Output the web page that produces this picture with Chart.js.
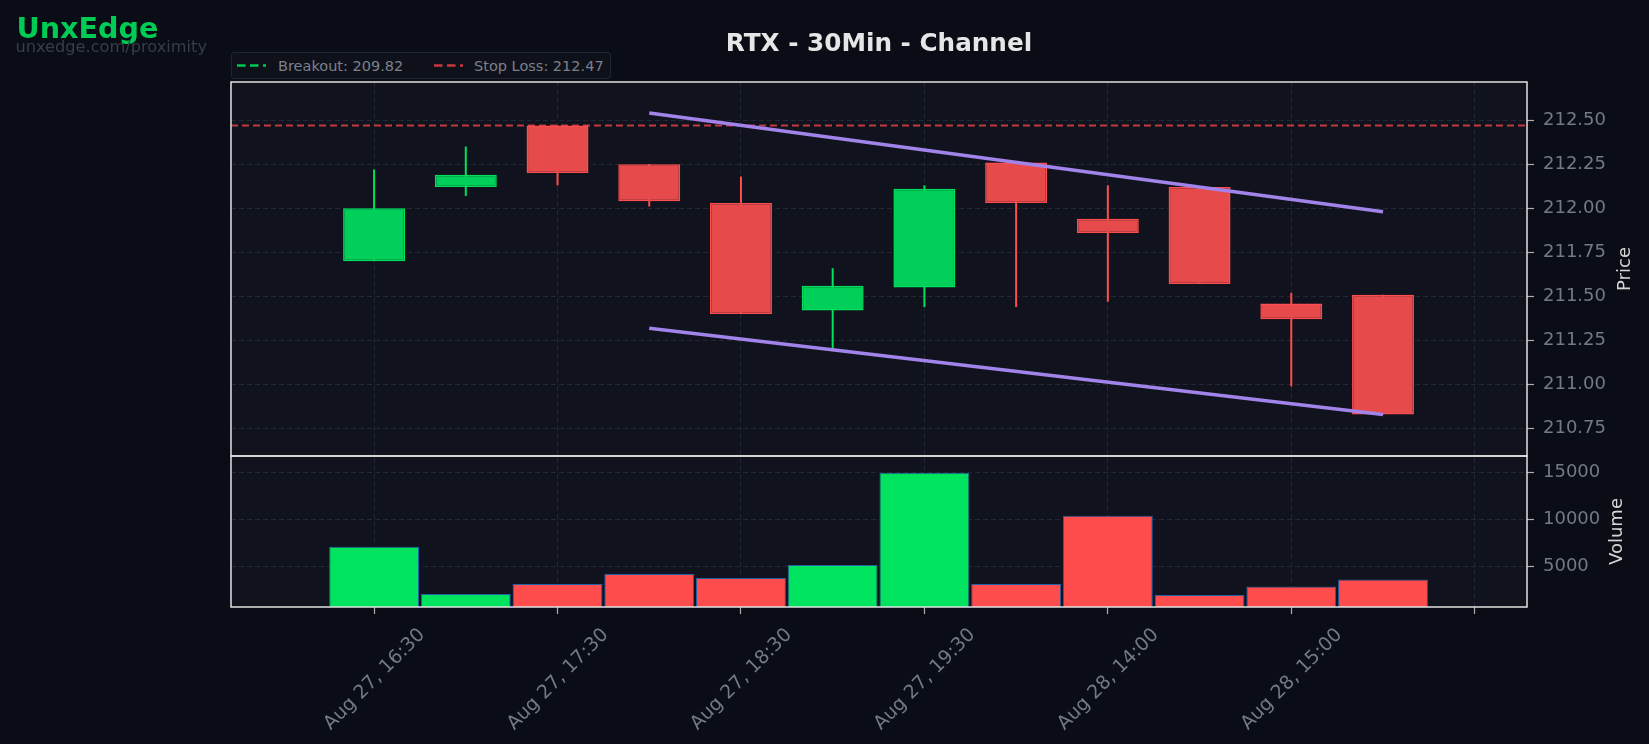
<!DOCTYPE html>
<html>
<head>
<meta charset="utf-8">
<title>RTX - 30Min - Channel</title>
<script src="https://cdn.jsdelivr.net/npm/chart.js@4.4.1/dist/chart.umd.min.js"></script>
<style>
  html, body { margin: 0; padding: 0; background: #0a0d15; }
  #wrap { position: relative; width: 1649px; height: 744px; overflow: hidden;
          font-family: 'DejaVu Sans', sans-serif; }
  #chart_canvas { position: absolute; left: 0; top: 0; }
  .txt { position: absolute; line-height: 1; white-space: nowrap; }
  #brand { left: 16.5px; top: 14px; font-size: 28.6px; font-weight: bold; color: #00cc55; }
  #brand_url { left: 15.5px; top: 39px; font-size: 16.2px; color: #383d49; }
  #title { left: 231px; width: 1296px; top: 31.2px; text-align: center;
           font-size: 24.7px; font-weight: bold; color: #e6e6e6; }
  #legend_box { position: absolute; left: 231px; top: 52px; width: 380px; height: 27px;
                box-sizing: border-box; border: 1px solid #20242f; border-radius: 3px;
                background: #0e111a; }
  .legend_text { font-size: 14.5px; color: #7b808b; top: 58.8px; }
  .legend_dash { position: absolute; top: 64px; }
</style>
</head>
<body>
<div id="wrap">
  <canvas id="chart_canvas" width="1649" height="744"></canvas>
  <div id="brand" class="txt">UnxEdge</div>
  <div id="brand_url" class="txt">unxedge.com/proximity</div>
  <div id="title" class="txt"></div>
  <div id="legend_box"></div>
  <svg class="legend_dash" style="left:237px" width="30" height="3">
    <line x1="0" y1="1.5" x2="29" y2="1.5" stroke="#00c853" stroke-width="2.5" stroke-dasharray="8.5 4.5"/>
  </svg>
  <div id="legend_breakout" class="txt legend_text" style="left:278px"></div>
  <svg class="legend_dash" style="left:434px" width="30" height="3">
    <line x1="0" y1="1.5" x2="29" y2="1.5" stroke="#c8393f" stroke-width="2.5" stroke-dasharray="8.5 4.5"/>
  </svg>
  <div id="legend_stop" class="txt legend_text" style="left:474px"></div>
</div>
<script>
// Chart text
const chart_title = 'RTX - 30Min - Channel';
const price_axis_title = 'Price';
const volume_axis_title = 'Volume';

// One entry per 30 minute candle
const candle_labels = [
  'Aug 27, 16:30', 'Aug 27, 17:00', 'Aug 27, 17:30', 'Aug 27, 18:00',
  'Aug 27, 18:30', 'Aug 27, 19:00', 'Aug 27, 19:30', 'Aug 28, 13:30',
  'Aug 28, 14:00', 'Aug 28, 14:30', 'Aug 28, 15:00', 'Aug 28, 15:30'
];
const open_prices  = [211.70, 212.12, 212.47, 212.25, 212.03, 211.42, 211.55, 212.26, 211.94, 212.12, 211.46, 211.51];
const high_prices  = [212.22, 212.35, 212.47, 212.25, 212.18, 211.66, 212.13, 212.26, 212.13, 212.12, 211.52, 211.51];
const low_prices   = [211.70, 212.07, 212.13, 212.01, 211.40, 211.20, 211.44, 211.44, 211.47, 211.57, 210.99, 210.83];
const close_prices = [212.00, 212.19, 212.20, 212.04, 211.40, 211.56, 212.11, 212.03, 211.86, 211.57, 211.37, 210.83];
const volumes      = [7060, 2060, 3120, 4180, 3760, 5140, 14930, 3120, 10350, 1950, 2840, 3580];

// Channel lines, from candle 3 to candle 11
const channel_candles = [3, 11];
const upper_channel = [212.54, 211.98];
const lower_channel = [211.32, 210.83];

const breakout_level = 209.82;
const stop_loss_level = 212.47;

// Axis ranges and tick values
const x_range = [-1.56, 12.57];
const x_ticks = [0, 2, 4, 6, 8, 10, 12];
const price_range = [210.595, 212.716];
const price_ticks = [210.75, 211.00, 211.25, 211.50, 211.75, 212.00, 212.25, 212.50];
const volume_range = [670, 16700];
const volume_ticks = [5000, 10000, 15000];

const font_family = "'DejaVu Sans', sans-serif";
const up_color = '#00cf5a';
const up_edge = '#00e25c';
const down_color = '#e74a4b';
const down_edge = '#ff4d4d';
const panel_color = '#10131e';
const grid_color = '#222733';
const tick_text_color = '#737985';

document.getElementById('title').textContent = chart_title;
document.getElementById('legend_breakout').textContent = 'Breakout: ' + breakout_level.toFixed(2);
document.getElementById('legend_stop').textContent = 'Stop Loss: ' + stop_loss_level.toFixed(2);

const candle_x = candle_labels.map((_, i) => i);
const is_up = candle_x.map(i => close_prices[i] >= open_prices[i]);

function channel_points(values) {
  return channel_candles.map((c, i) => ({x: c, y: values[i]}));
}

function fixed_ticks(values) {
  return (scale) => { scale.ticks = values.map(v => ({value: v})); };
}

/**
 * Paints the two panel backgrounds, then the frames and the axis titles.
 */
const panel_plugin = {
  id: 'panels',
  beforeDraw(chart) {
    const {ctx, chartArea} = chart;
    ctx.save();
    ctx.fillStyle = panel_color;
    for (const id of ['y', 'yv']) {
      const s = chart.scales[id];
      ctx.fillRect(chartArea.left, s.top, chartArea.right - chartArea.left, s.bottom - s.top);
    }
    ctx.restore();
  },
  afterDraw(chart) {
    const {ctx, chartArea} = chart;
    ctx.save();
    ctx.strokeStyle = '#e2e2e2';
    ctx.lineWidth = 1.5;
    for (const id of ['y', 'yv']) {
      const s = chart.scales[id];
      ctx.strokeRect(chartArea.left, s.top, chartArea.right - chartArea.left, s.bottom - s.top);
    }
    ctx.fillStyle = '#d6d6d6';
    ctx.font = '18px ' + font_family;
    ctx.textAlign = 'center';
    ctx.textBaseline = 'middle';
    const titles = [['y', price_axis_title, 98], ['yv', volume_axis_title, 90]];
    for (const [id, text, dx] of titles) {
      const s = chart.scales[id];
      ctx.save();
      ctx.translate(chartArea.right + dx, (s.top + s.bottom) / 2);
      ctx.rotate(-Math.PI / 2);
      ctx.fillText(text, 0, 0);
      ctx.restore();
    }
    ctx.restore();
  }
};

function y_scale(range, weight, tick_values, fmt) {
  return {
    type: 'linear',
    position: 'right',
    stack: 'panels',
    stackWeight: weight,
    min: range[0],
    max: range[1],
    grid: {color: grid_color, lineWidth: 1, tickColor: '#aeaeae', tickLength: 7, tickWidth: 1.2},
    border: {display: false, dash: [5, 3]},
    ticks: {
      padding: 9,
      color: tick_text_color,
      font: {family: font_family, size: 18},
      callback: fmt
    },
    afterBuildTicks: fixed_ticks(tick_values),
    afterFit: (s) => { s.width = 122; }
  };
}

new Chart(document.getElementById('chart_canvas'), {
  type: 'bar',
  data: {
    datasets: [{
      type: 'line',
      label: 'Upper channel',
      data: channel_points(upper_channel),
      borderColor: '#a283ea',
      borderWidth: 3.5,
      pointRadius: 0,
      yAxisID: 'y',
      order: 0
    }, {
      type: 'line',
      label: 'Lower channel',
      data: channel_points(lower_channel),
      borderColor: '#a283ea',
      borderWidth: 3.5,
      pointRadius: 0,
      yAxisID: 'y',
      order: 0
    }, {
      label: 'Body',
      data: candle_x.map(i => ({
        x: i,
        y: [Math.min(open_prices[i], close_prices[i]), Math.max(open_prices[i], close_prices[i])]
      })),
      backgroundColor: is_up.map(u => u ? up_color : down_color),
      borderColor: is_up.map(u => u ? up_edge : down_edge),
      borderWidth: 1.5,
      borderSkipped: false,
      grouped: false,
      barPercentage: 0.675,
      categoryPercentage: 1,
      yAxisID: 'y',
      order: 1
    }, {
      label: 'Wick',
      data: candle_x.map(i => ({x: i, y: [low_prices[i], high_prices[i]]})),
      backgroundColor: is_up.map(u => u ? up_edge : down_edge),
      borderWidth: 0,
      grouped: false,
      maxBarThickness: 2,
      yAxisID: 'y',
      order: 2
    }, {
      type: 'line',
      label: 'Stop Loss',
      data: [{x: x_range[0], y: stop_loss_level}, {x: x_range[1], y: stop_loss_level}],
      borderColor: '#c23a40',
      borderWidth: 2,
      borderDash: [7, 4],
      pointRadius: 0,
      yAxisID: 'y',
      order: 3
    }, {
      label: 'Volume',
      data: candle_x.map(i => ({x: i, y: volumes[i]})),
      backgroundColor: is_up.map(u => u ? '#00e35e' : '#ff4d4d'),
      borderColor: '#2461a6',
      borderWidth: 1,
      grouped: false,
      barPercentage: 0.98,
      categoryPercentage: 1,
      yAxisID: 'yv',
      order: 4
    }]
  },
  options: {
    responsive: false,
    animation: false,
    devicePixelRatio: 1,
    layout: {padding: {left: 231, top: 82, right: 0, bottom: 0}},
    plugins: {legend: {display: false}, tooltip: {enabled: false}},
    scales: {
      x: {
        type: 'linear',
        min: x_range[0],
        max: x_range[1],
        offset: false,
        grid: {offset: false, color: grid_color, lineWidth: 1, tickColor: '#aeaeae', tickLength: 7, tickWidth: 1.2},
        border: {display: false, dash: [5, 3]},
        ticks: {
          autoSkip: false,
          minRotation: 45,
          maxRotation: 45,
          labelOffset: 48,
          padding: 10,
          color: tick_text_color,
          font: {family: font_family, size: 19},
          callback: (v) => candle_labels[v] || ''
        },
        afterBuildTicks: fixed_ticks(x_ticks),
        afterFit: (s) => { s.height = 137; }
      },
      y: y_scale(price_range, 374, price_ticks, (v) => v.toFixed(2)),
      yv: y_scale(volume_range, 151, volume_ticks, (v) => String(v))
    }
  },
  plugins: [panel_plugin]
});
</script>
</body>
</html>
